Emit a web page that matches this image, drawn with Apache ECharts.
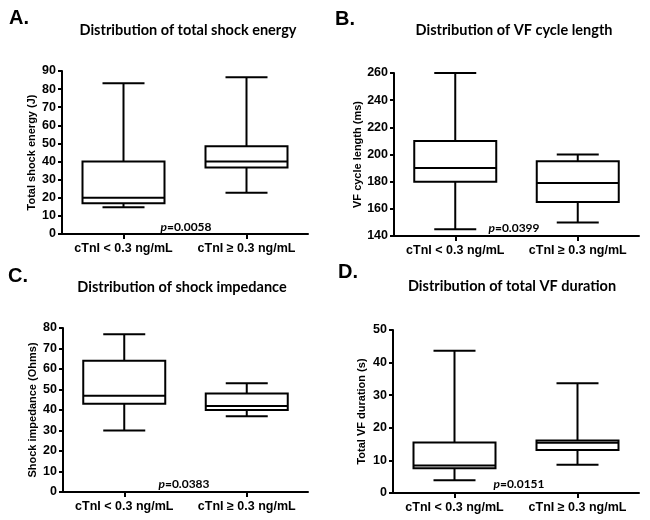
<!DOCTYPE html>
<html>
<head>
<meta charset="utf-8">
<script src="https://cdn.jsdelivr.net/npm/echarts@6/dist/echarts.min.js"></script>
<style>html,body{margin:0;padding:0;background:#fff}#c{width:650px;height:520px}</style>
</head>
<body>
<div id="c"></div>
<script>
// ---- data ----
const categories = ['cTnI < 0.3 ng/mL', 'cTnI \u2265 0.3 ng/mL'];
// each box: [min, Q1, median, Q3, max]
const energyBoxes = [[14.8, 17, 20, 40, 83.3], [22.8, 36.7, 40, 48.5, 86.5]];
const cycleBoxes = [[145, 180, 190, 210, 260], [150, 165, 179, 195, 200]];
const impedanceBoxes = [[30, 43, 47, 64, 77], [37, 40, 42, 48, 53]];
const durationBoxes = [[3.9, 7.6, 8.4, 15.5, 43.6], [8.7, 13.2, 15.4, 16.1, 33.7]];
const panelTitles = ['Distribution of total shock energy', 'Distribution of VF cycle length',
  'Distribution of shock impedance', 'Distribution of total VF duration'];
const panelLetters = ['A.', 'B.', 'C.', 'D.'];
const yNames = ['Total shock energy (J)', 'VF cycle length (ms)', 'Shock impedance (Ohms)', 'Total VF duration (s)'];
const yRanges = [[0, 90, 10], [140, 260, 20], [0, 80, 10], [0, 50, 10]];
const pValues = ['0.0058', '0.0399', '0.0383', '0.0151'];

// ---- layout ----
const grids = [
  {left: 62, top: 71, width: 246, height: 163},
  {left: 394, top: 73, width: 245, height: 163},
  {left: 63, top: 328, width: 245, height: 164},
  {left: 393, top: 330, width: 246, height: 163}
];
const nameGaps = [25, 31, 25, 26];
const titlePos = [[188, 30], [514, 30], [182, 287], [512, 286]];
const letterPos = [[9, 18], [335, 19], [8, 276], [338, 272]];
const pPos = [[186, 227], [514, 228], [184, 484], [519, 484]];
const allBoxes = [energyBoxes, cycleBoxes, impedanceBoxes, durationBoxes];

const BOX_W = 82, CAP_W = 42;
function renderBox(params, api) {
  const i = api.value(0);
  const x = api.coord([i, api.value(1)])[0];
  const y = k => api.coord([i, api.value(k)])[1];
  const yMin = y(1), yQ1 = y(2), yMed = y(3), yQ3 = y(4), yMax = y(5);
  const st = {stroke: '#000', lineWidth: 2, fill: null};
  return {
    type: 'group',
    children: [
      {type: 'line', shape: {x1: x, y1: yMax, x2: x, y2: yQ3}, style: st},
      {type: 'line', shape: {x1: x, y1: yQ1, x2: x, y2: yMin}, style: st},
      {type: 'line', shape: {x1: x - CAP_W / 2, y1: yMax, x2: x + CAP_W / 2, y2: yMax}, style: st},
      {type: 'line', shape: {x1: x - CAP_W / 2, y1: yMin, x2: x + CAP_W / 2, y2: yMin}, style: st},
      {type: 'rect', shape: {x: x - BOX_W / 2, y: yQ3, width: BOX_W, height: yQ1 - yQ3},
        style: {fill: '#fff', stroke: '#000', lineWidth: 2}},
      {type: 'line', shape: {x1: x - BOX_W / 2, y1: yMed, x2: x + BOX_W / 2, y2: yMed}, style: st}
    ]
  };
}

const axisFont = {color: '#000', fontWeight: 'bold', fontFamily: 'Liberation Sans', fontSize: 12.5};
const xAxes = [], yAxes = [], series = [], graphics = [];
grids.forEach((g, k) => {
  xAxes.push({
    type: 'category', gridIndex: k, data: categories, boundaryGap: true,
    axisLine: {lineStyle: {color: '#000', width: 2}},
    axisTick: {show: true, interval: 0, alignWithLabel: true, length: 5, lineStyle: {color: '#000', width: 2}},
    axisLabel: Object.assign({margin: 8, interval: 0, hideOverlap: false}, axisFont),
    splitLine: {show: false}
  });
  yAxes.push({
    type: 'value', gridIndex: k, min: yRanges[k][0], max: yRanges[k][1], interval: yRanges[k][2],
    name: yNames[k], nameLocation: 'middle', nameGap: nameGaps[k],
    nameTextStyle: {color: '#000', fontWeight: 'bold', fontFamily: 'Liberation Sans', fontSize: 11},
    axisLine: {show: true, lineStyle: {color: '#000', width: 2}},
    axisTick: {show: true, length: 4, lineStyle: {color: '#000', width: 2}},
    axisLabel: Object.assign({margin: 6}, axisFont),
    splitLine: {show: false}
  });
  series.push({
    type: 'custom', xAxisIndex: k, yAxisIndex: k, renderItem: renderBox,
    encode: {x: 0, y: [1, 2, 3, 4, 5]},
    data: allBoxes[k].map((b, i) => [i].concat(b)),
    silent: true, animation: false
  });
  graphics.push({
    type: 'text', x: titlePos[k][0], y: titlePos[k][1],
    style: {text: panelTitles[k], fill: '#000', font: 'bold 14.5px Lato', align: 'center', verticalAlign: 'middle'}
  });
  graphics.push({
    type: 'text', x: letterPos[k][0], y: letterPos[k][1],
    style: {text: panelLetters[k], fill: '#000', font: 'bold 20px "Liberation Sans"', align: 'left', verticalAlign: 'middle'}
  });
  graphics.push({
    type: 'text', x: pPos[k][0], y: pPos[k][1],
    style: {
      text: '{i|p}{n|=' + pValues[k] + '}', align: 'center', verticalAlign: 'middle',
      rich: {
        i: {fill: '#000', fontStyle: 'italic', fontWeight: 'bold', fontFamily: 'Lato', fontSize: 12},
        n: {fill: '#000', fontWeight: 'bold', fontFamily: 'Lato', fontSize: 12}
      }
    }
  });
});

const chart = echarts.init(document.getElementById('c'), null, {renderer: 'canvas'});
chart.setOption({
  backgroundColor: '#fff',
  animation: false,
  grid: grids,
  xAxis: xAxes,
  yAxis: yAxes,
  series: series,
  graphic: graphics
});
</script>
</body>
</html>
